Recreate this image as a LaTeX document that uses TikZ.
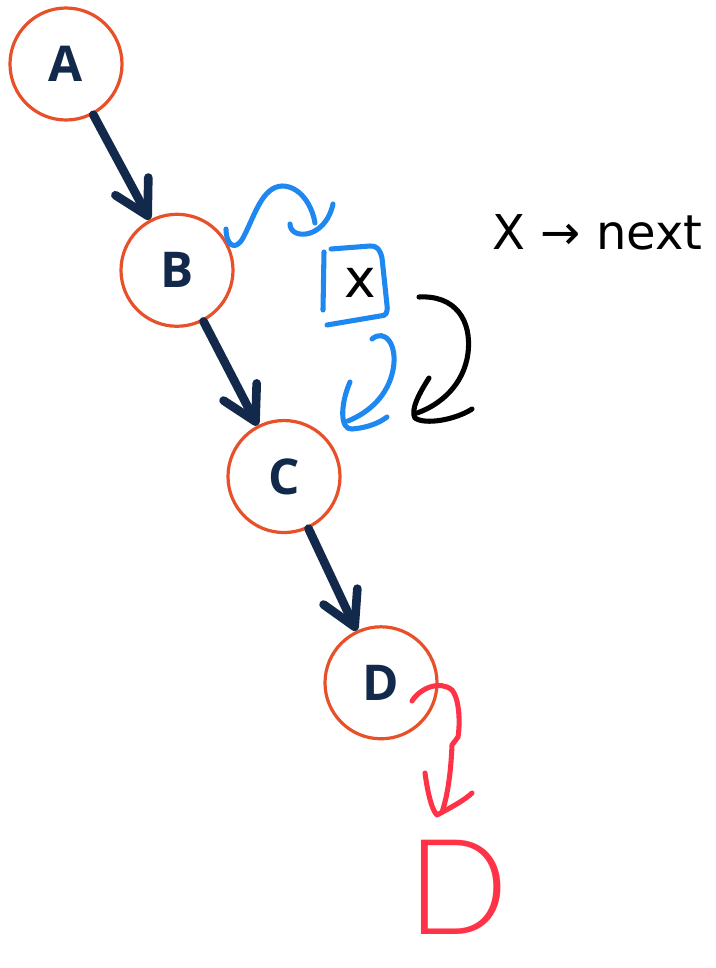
\documentclass[tikz,border=0pt]{standalone}
\usepackage{fontspec}
\newfontfamily\labelfont{Open Sans}
\newfontfamily\inkfont{DejaVu Sans}
\newfontfamily\thinfont{Lato Light}
\usetikzlibrary{arrows.meta}
\definecolor{ring}{HTML}{E8502A}
\definecolor{navy}{HTML}{13294B}
\definecolor{inkblue}{HTML}{1E88F0}
\definecolor{inkred}{HTML}{FF3347}

\begin{document}
\begin{tikzpicture}[x=0.75pt,y=-0.75pt,level distance=154.7pt,
  edge from parent/.style={draw=navy,line width=6.5pt,line cap=round,
    -{Straight Barb[length=25pt,width=28pt,round]}},
  vertex/.style={circle,draw=ring,line width=2.4pt,minimum size=84pt,inner sep=0pt,
    text=navy,font=\labelfont\bfseries\fontsize{37}{37}\selectfont},
  ink/.style={line width=3.8pt,line cap=round,line join=round}]
\useasboundingbox (0,0) rectangle (715,968);
% the list
\node[vertex] (a) at (66,64) {A}
  child [xshift=83.25pt] {node[vertex] (b) {B}
    child [xshift=80.25pt] {node[vertex] (c) {C}
      child [xshift=72.75pt] {node[vertex] (d) {D}}
    }
  };
% x jumps in between B and C
\draw[ink,inkblue] (226,229) .. controls (226,245) and (235,252) .. (243,238)
  .. controls (255,215) and (262,187) .. (282,186) .. controls (300,186) and (312,205) .. (315,223);
\draw[ink,inkblue] (290,224) .. controls (290,240) and (325,240) .. (333,204);
\draw[ink,inkblue] (324,252) -- (323,310);
\draw[ink,inkblue] (331,249) -- (370,246) .. controls (378,246) and (380,250) .. (382,258)
  -- (387,305) .. controls (388,313) and (386,316) .. (380,316) -- (327,325);
\node[font=\inkfont\fontsize{40}{40}\selectfont] (x) at (360,283) {x};
\draw[ink,inkblue] (372,339) .. controls (385,328) and (398,345) .. (393,370)
  .. controls (388,395) and (370,412) .. (348,421);
\draw[ink,inkblue] (350,382) .. controls (340,405) and (340,430) .. (352,429)
  .. controls (365,428) and (378,424) .. (387,417);
\draw[ink] (419,297) .. controls (455,295) and (472,320) .. (468,353)
  .. controls (464,385) and (440,405) .. (417,413);
\draw[ink] (429,378) .. controls (420,392) and (410,410) .. (415,418)
  .. controls (425,425) and (455,420) .. (472,409);
\node[font=\inkfont\fontsize{36}{36}\selectfont,anchor=west] (rule) at (488,232) {X → next};
% D drops off the end
\draw[ink,inkred] (412,701) .. controls (420,688) and (440,680) .. (452,690)
  .. controls (460,700) and (460,725) .. (458,737) -- (452,745) .. controls (451,770) and (448,795) .. (442,812);
\draw[ink,inkred] (425,773) .. controls (428,795) and (432,810) .. (437,815)
  .. controls (450,808) and (465,800) .. (472,793);
\node[text=inkred,inner sep=0pt,font=\thinfont\fontsize{100}{100}\selectfont] (fell) at (458,887) {D};
\end{tikzpicture}
\end{document}
